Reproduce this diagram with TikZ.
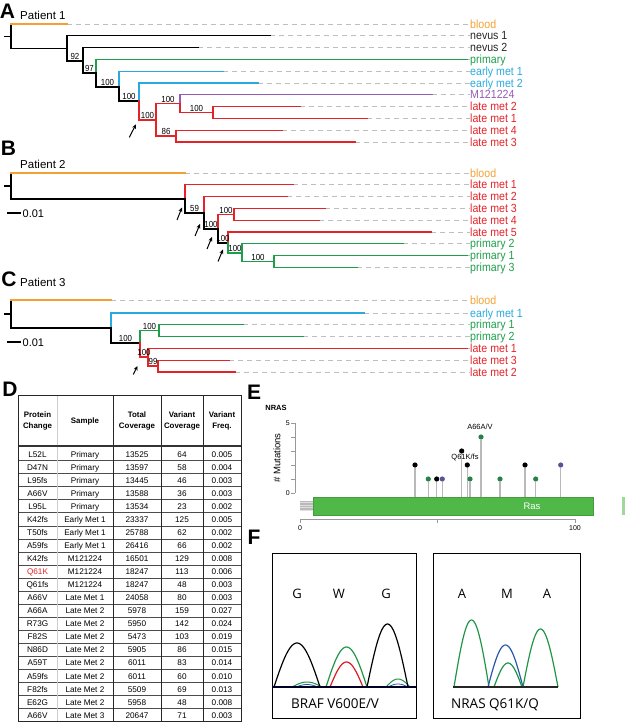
\documentclass[tikz,border=0pt]{standalone}
\usepackage{fontspec}
\setmainfont{Liberation Sans}
\newfontfamily\lsans{Liberation Sans}
\newfontfamily\lsansn{Liberation Sans}[FakeStretch=0.9]
\newfontfamily\osans{Open Sans}
\usetikzlibrary{calc,arrows.meta}
\newcommand\fsz[1]{\fontsize{#1}{#1}\selectfont}
\definecolor{torange}{RGB}{245,160,50}
\definecolor{tgreen}{RGB}{30,158,75}
\definecolor{tcyan}{RGB}{40,170,225}
\definecolor{tred}{RGB}{228,35,40}
\definecolor{tpurple}{RGB}{150,90,180}
\definecolor{dashgray}{RGB}{190,190,190}
\definecolor{rasgreen}{RGB}{80,184,72}
\definecolor{lolgreen}{RGB}{40,130,70}
\definecolor{lolpurple}{RGB}{85,85,150}
\definecolor{stemgray}{RGB}{185,185,185}
\definecolor{chgreen}{RGB}{30,150,70}
\definecolor{chblue}{RGB}{40,90,170}
\definecolor{chred}{RGB}{220,30,35}
\tikzset{
 tr/.style={line width=1.3pt, line cap=rect},
 dsh/.style={draw=dashgray, line width=0.9pt, dash pattern=on 5pt off 4pt},
 lab/.style={anchor=base west, inner sep=0pt, font=\lsansn\fsz{11.8}},
 bs/.style={anchor=south, inner sep=1pt, font=\lsansn\fsz{8.8}},
 plab/.style={anchor=base west, inner sep=0pt, font=\lsans\fsz{11.5}},
 panel/.style={inner sep=0pt, font=\lsans\bfseries\fsz{21}},
 arr/.style={-{Stealth[length=4.5pt,width=4pt]}, line width=1pt},
 sbar/.style={line width=1.2pt},
 tcell/.style={anchor=base, inner sep=0pt, font=\lsans\fsz{8.2}},
 thead/.style={align=center, inner sep=0pt, font=\lsans\bfseries\fontsize{7.9}{11.5}\selectfont},
 tline/.style={line width=0.8pt, black!85},
 rowline/.style={line width=0.7pt, black!70},
 axisg/.style={line width=0.7pt, gray!80},
 stem/.style={line width=1.2pt, stemgray},
 small/.style={inner sep=0pt, font=\lsans\fsz{7}},
 fbox/.style={draw, line width=1.2pt, inner sep=0pt, anchor=north west, minimum height=165pt},
 flet/.style={anchor=base, inner sep=0pt, font=\osans\fsz{13}},
 ftext/.style={anchor=base west, inner sep=0pt, font=\osans\fsz{13.5}}
}
\newcommand\leaf[5]{%
 \coordinate (#1) at (#2,#3);
 \node[lab,text=#4] (#1-l) at (470,#3+4.1) {#5};
 \draw[dsh] (#1) -- (#1 -| #1-l.west);
}
\newcommand\tedge[4]{\draw[tr,#3] (#1) -- (#1 |- #2); \draw[tr,#4] (#1 |- #2) -- (#2);}
\newcommand\bsl[3]{\node[bs] (bs-#2) at ($(#1 |- #2)!0.5!(#2)$) {#3};}
\newcommand\peak[5]{\draw[#1, line width=#5pt] plot[domain=#2:#3, samples=41, smooth] (\x,{687-#4*cos(180*(\x-#2)/(#3-#2)-90)});}
\begin{document}
\begin{tikzpicture}[x=1pt,y=-1pt]
\useasboundingbox (0,0) rectangle (625,722);
% ================= A =================
\node[panel] (pA) at (7.5,11) {A};
\node[plab] (patA) at (20,20) {Patient 1};
\leaf{a-blood}{67}{24}{torange}{blood}
\leaf{a-nev1}{270}{35.8}{black!85}{nevus 1}
\leaf{a-nev2}{198}{47.6}{black!85}{nevus 2}
\leaf{a-prim}{467}{59.4}{tgreen}{primary}
\leaf{a-em1}{223}{71.2}{tcyan}{early met 1}
\leaf{a-em2}{258}{83}{tcyan}{early met 2}
\leaf{a-m12}{432}{94.8}{tpurple}{M121224}
\leaf{a-lm2}{300}{106.6}{tred}{late met 2}
\leaf{a-lm1}{367}{118.4}{tred}{late met 1}
\leaf{a-lm4}{282}{130.2}{tred}{late met 4}
\leaf{a-lm3}{355}{142}{tred}{late met 3}
\coordinate (a-tk) at (5,36.5);
\coordinate (a-r) at (11,36.5);
\coordinate (a-n1) at (67,48.5);
\coordinate (a-n2) at (83,61);
\coordinate (a-n3) at (96,73);
\coordinate (a-n4) at (119,87);
\coordinate (a-n5) at (139,101);
\coordinate (a-n6) at (156,120);
\coordinate (a-n7) at (180,103.5);
\coordinate (a-n8) at (176,136);
\coordinate (a-n9) at (213,112.5);
\draw[tr] (a-tk) -- (a-r);
\tedge{a-r}{a-blood}{black}{torange}
\tedge{a-r}{a-n1}{black}{black}
\tedge{a-n1}{a-nev1}{black}{black}
\tedge{a-n1}{a-n2}{black}{black}
\tedge{a-n2}{a-nev2}{black}{black}
\tedge{a-n2}{a-n3}{black}{black}
\tedge{a-n3}{a-prim}{tgreen}{tgreen}
\tedge{a-n3}{a-n4}{black}{black}
\tedge{a-n4}{a-em1}{tcyan}{tcyan}
\tedge{a-n4}{a-n5}{black}{black}
\tedge{a-n5}{a-em2}{tcyan}{tcyan}
\tedge{a-n5}{a-n6}{tred}{tred}
\tedge{a-n6}{a-n7}{tred}{tred}
\tedge{a-n6}{a-n8}{tred}{tred}
\tedge{a-n7}{a-m12}{tpurple}{tpurple}
\tedge{a-n7}{a-n9}{tred}{tred}
\tedge{a-n9}{a-lm2}{tred}{tred}
\tedge{a-n9}{a-lm1}{tred}{tred}
\tedge{a-n8}{a-lm4}{tred}{tred}
\tedge{a-n8}{a-lm3}{tred}{tred}
\bsl{a-n1}{a-n2}{92}
\bsl{a-n2}{a-n3}{97}
\bsl{a-n3}{a-n4}{100}
\bsl{a-n4}{a-n5}{100}
\bsl{a-n5}{a-n6}{100}
\bsl{a-n6}{a-n7}{100}
\bsl{a-n7}{a-n9}{100}
\bsl{a-n6}{a-n8}{86}
\coordinate (a-ar1) at (129.3,137.3); \coordinate (a-ar2) at (136,124.3);
\draw[arr] (a-ar1) -- (a-ar2);
% ================= B =================
\node[panel] (pB) at (8.5,148) {B};
\node[plab] (patB) at (20,169) {Patient 2};
\leaf{b-blood}{185}{173}{torange}{blood}
\leaf{b-lm1}{293}{184.8}{tred}{late met 1}
\leaf{b-lm2}{287}{196.6}{tred}{late met 2}
\leaf{b-lm3}{325}{208.4}{tred}{late met 3}
\leaf{b-lm4}{319}{220.2}{tred}{late met 4}
\leaf{b-lm5}{431}{232}{tred}{late met 5}
\leaf{b-p2}{403}{243.8}{tgreen}{primary 2}
\leaf{b-p1}{467}{255.6}{tgreen}{primary 1}
\leaf{b-p3}{357}{267.4}{tgreen}{primary 3}
\coordinate (b-tk) at (5,186);
\coordinate (b-r) at (11,186);
\coordinate (b-m1) at (185,199);
\coordinate (b-m2) at (204,213);
\coordinate (b-m3) at (218,229);
\coordinate (b-m4) at (234,214.3);
\coordinate (b-m5) at (228,243);
\coordinate (b-m6) at (242,253);
\coordinate (b-m7) at (274,261.5);
\draw[tr] (b-tk) -- (b-r);
\tedge{b-r}{b-blood}{black}{torange}
\tedge{b-r}{b-m1}{black}{black}
\tedge{b-m1}{b-lm1}{tred}{tred}
\tedge{b-m1}{b-m2}{black}{black}
\tedge{b-m2}{b-lm2}{tred}{tred}
\tedge{b-m2}{b-m3}{black}{black}
\tedge{b-m3}{b-m4}{tred}{tred}
\tedge{b-m3}{b-m5}{black}{black}
\tedge{b-m4}{b-lm3}{tred}{tred}
\tedge{b-m4}{b-lm4}{tred}{tred}
\tedge{b-m5}{b-lm5}{tred}{tred}
\tedge{b-m5}{b-m6}{tgreen}{tgreen}
\tedge{b-m6}{b-p2}{tgreen}{tgreen}
\tedge{b-m6}{b-m7}{tgreen}{tgreen}
\tedge{b-m7}{b-p1}{tgreen}{tgreen}
\tedge{b-m7}{b-p3}{tgreen}{tgreen}
\bsl{b-m1}{b-m2}{59}
\bsl{b-m2}{b-m3}{100}
\bsl{b-m3}{b-m4}{100}
\bsl{b-m3}{b-m5}{100}
\bsl{b-m5}{b-m6}{100}
\bsl{b-m6}{b-m7}{100}
\coordinate (b-sb1) at (7,213); \coordinate (b-sb2) at (21,213);
\draw[sbar] (b-sb1) -- (b-sb2);
\node[plab, font=\lsans\fsz{11}] (b-sbl) at (22.5,217.5) {0.01};
\coordinate (b-a1s) at (177,220); \coordinate (b-a1e) at (182,207.5);
\coordinate (b-a2s) at (195,236); \coordinate (b-a2e) at (200,224);
\coordinate (b-a3s) at (207,249); \coordinate (b-a3e) at (212,237);
\coordinate (b-a4s) at (218,261.5); \coordinate (b-a4e) at (223,249.5);
\draw[arr] (b-a1s) -- (b-a1e);
\draw[arr] (b-a2s) -- (b-a2e);
\draw[arr] (b-a3s) -- (b-a3e);
\draw[arr] (b-a4s) -- (b-a4e);
% ================= C =================
\node[panel] (pC) at (9,279) {C};
\node[plab] (patC) at (20,286) {Patient 3};
\leaf{c-blood}{111}{300}{torange}{blood}
\leaf{c-em1}{364}{313}{tcyan}{early met 1}
\leaf{c-p1}{243}{324.8}{tgreen}{primary 1}
\leaf{c-p2}{303}{336.6}{tgreen}{primary 2}
\leaf{c-lm1}{467}{348.4}{tred}{late met 1}
\leaf{c-lm3}{229}{360.2}{tred}{late met 3}
\leaf{c-lm2}{235}{372}{tred}{late met 2}
\coordinate (c-tk) at (5,314);
\coordinate (c-r) at (11,314);
\coordinate (c-1) at (111,328);
\coordinate (c-2) at (140,343);
\coordinate (c-3) at (159,330.7);
\coordinate (c-4) at (148,357);
\coordinate (c-5) at (158,366.1);
\draw[tr] (c-tk) -- (c-r);
\tedge{c-r}{c-blood}{black}{torange}
\tedge{c-r}{c-1}{black}{black}
\tedge{c-1}{c-em1}{tcyan}{tcyan}
\tedge{c-1}{c-2}{black}{black}
\tedge{c-2}{c-3}{tgreen}{tgreen}
\tedge{c-2}{c-4}{tred}{tred}
\tedge{c-3}{c-p1}{tgreen}{tgreen}
\tedge{c-3}{c-p2}{tgreen}{tgreen}
\tedge{c-4}{c-lm1}{tred}{tred}
\tedge{c-4}{c-5}{tred}{tred}
\tedge{c-5}{c-lm3}{tred}{tred}
\tedge{c-5}{c-lm2}{tred}{tred}
\bsl{c-1}{c-2}{100}
\bsl{c-2}{c-3}{100}
\bsl{c-2}{c-4}{100}
\bsl{c-4}{c-5}{99}
\coordinate (c-sb1) at (7,342); \coordinate (c-sb2) at (21,342);
\draw[sbar] (c-sb1) -- (c-sb2);
\node[plab, font=\lsans\fsz{11}] (c-sbl) at (22.5,346.5) {0.01};
\coordinate (c-as) at (133.3,374.5); \coordinate (c-ae) at (137.5,366);
\draw[arr] (c-as) -- (c-ae);
% ================= D (table) =================
\node[panel] (pD) at (10,389) {D};
\node[thead] (h1) at (37.5,421) {Protein\\Change};
\node[thead] (h2) at (85,421) {Sample};
\node[thead] (h3) at (137,421) {Total\\Coverage};
\node[thead] (h4) at (182,421) {Variant\\Coverage};
\node[thead] (h5) at (222,421) {Variant\\Freq.};
\foreach \k in {1,...,20} \draw[rowline] (18,{447.5+13.06*\k}) -- (241,{447.5+13.06*\k});
\draw[gray!40, line width=0.7pt] (57,395) -- (57,721.7);
\foreach \xx in {113,161,203} \draw[tline] (\xx,395) -- (\xx,721.7);
\draw[line width=1.7pt, black!80] (18,446.3) -- (241,446.3);
\draw[tline] (18,395) rectangle (241,721.7);
\foreach \pc/\sm/\tc/\vc/\vf [count=\i from 0] in {L52L/Primary/13525/64/0.005, D47N/Primary/13597/58/0.004, L95fs/Primary/13445/46/0.003, A66V/Primary/13588/36/0.003, L95L/Primary/13534/23/0.002, K42fs/Early Met 1/23337/125/0.005, T50fs/Early Met 1/25788/62/0.002, A59fs/Early Met 1/26416/66/0.002, K42fs/M121224/16501/129/0.008, {\textcolor{tred}{Q61K}}/M121224/18247/113/0.006, Q61fs/M121224/18247/48/0.003, A66V/Late Met 1/24058/80/0.003, A66A/Late Met 2/5978/159/0.027, R73G/Late Met 2/5950/142/0.024, F82S/Late Met 2/5473/103/0.019, N86D/Late Met 2/5905/86/0.015, A59T/Late Met 2/6011/83/0.014, A59fs/Late Met 2/6011/60/0.010, F82fs/Late Met 2/5509/69/0.013, E62G/Late Met 2/5958/48/0.008, A66V/Late Met 3/20647/71/0.003}
{
 \node[tcell] (t\i-a) at (37.5,{457+13.06*\i}) {\pc};
 \node[tcell] (t\i-b) at (85,{457+13.06*\i}) {\sm};
 \node[tcell] (t\i-c) at (137,{457+13.06*\i}) {\tc};
 \node[tcell] (t\i-d) at (182,{457+13.06*\i}) {\vc};
 \node[tcell] (t\i-e) at (222,{457+13.06*\i}) {\vf};
}
% ================= E =================
\node[panel] (pE) at (254,392) {E};
\node[inner sep=0pt, font=\lsans\bfseries\fsz{7.5}] (e-nras) at (276,408) {NRAS};
\coordinate (e-ytop) at (295,423); \coordinate (e-ybot) at (295,493);
\draw[axisg] (e-ytop) -- (e-ybot);
\foreach \k in {0,...,5} \draw[axisg] (291,{493-14*\k}) -- (295,{493-14*\k});
\node[small, anchor=east] (e-y5) at (290,423) {5};
\node[small, anchor=east] (e-y0) at (290,493) {0};
\node[inner sep=0pt, font=\lsans\fsz{9.5}, rotate=90] (e-ylab) at (277,458) {\# Mutations};
\coordinate (e-x0) at (300,519); \coordinate (e-x1) at (575,519);
\draw[axisg] (e-x0) -- (e-x1);
\foreach \xx in {300,437.5,575} \draw[axisg] (\xx,519) -- (\xx,523);
\node[small, anchor=north] (e-xl0) at (300,525) {0};
\node[small, anchor=north] (e-xl1) at (575,525) {100};
\fill[gray!55] (300,501) rectangle (313,511);
\foreach \yy in {502.5,505,507.5,510} \draw[gray!25, line width=0.3pt] (300,\yy) -- (313,\yy);
\node[fill=rasgreen, draw=rasgreen!85!black, line width=0.4pt, inner sep=0pt, minimum width=280pt, minimum height=18pt, anchor=north west] (e-ras) at (313,497) {};
\node[text=white, inner sep=0pt, font=\lsans\fsz{9.5}] (e-rast) at (532,506.5) {Ras};
\fill[rasgreen!55] (621.5,497) rectangle (625,515);
\foreach \xx/\n/\c [count=\j] in {415/2/black, 428.3/1/lolgreen, 436.7/1/black, 442.3/1/lolpurple, 461.7/3/black, 467.3/2/black, 470/1/lolgreen, 481/4/lolgreen, 500/1/lolgreen, 525/2/black, 535.7/1/lolgreen, 560.7/2/lolpurple}
{
 \node[circle, fill=\c, inner sep=0pt, minimum size=5.2pt] (ld\j) at (\xx,{493-14*\n}) {};
 \coordinate (ls\j) at (\xx,497);
 \draw[stem] (ld\j.south) -- (ls\j);
}
\node[inner sep=0pt, font=\lsans\fsz{7.5}] (e-l1) at (480,427) {A66A/V};
\node[inner sep=0pt, font=\lsans\fsz{7.5}] (e-l2) at (465,457) {Q61K/fs};
% ================= F =================
\node[panel] (pF) at (254,537) {F};
\node[fbox, minimum width=144pt] (f-box1) at (272,553) {};
\node[fbox, minimum width=147pt] (f-box2) at (433,553) {};
\node[flet] (f-g1) at (297,598) {G};
\node[flet] (f-w) at (339,598) {W};
\node[flet] (f-g2) at (386,598) {G};
\node[flet] (f-a1) at (462,598) {A};
\node[flet] (f-m) at (507,598) {M};
\node[flet] (f-a2) at (547,598) {A};
\peak{chgreen}{292}{322}{5}{1}
\peak{chblue}{296}{318}{2.5}{0.8}
\peak{chgreen}{386}{410}{8}{1}
\peak{chblue}{388}{408}{3}{0.8}
\peak{chgreen}{326}{367}{40}{1.2}
\peak{chred}{330}{363}{25}{1.2}
\peak{black}{274}{320}{44}{1.2}
\peak{black}{367}{408}{63}{1.2}
\coordinate (f-b1l) at (272,687); \coordinate (f-b1r) at (416,687);
\draw[line width=1.5pt, black!85!blue] (f-b1l) -- (f-b1r);
\peak{chgreen}{454}{489}{67}{1.2}
\peak{chblue}{488}{523}{42}{1.2}
\peak{chgreen}{494}{522}{24}{1.2}
\peak{chgreen}{523}{558}{58}{1.2}
\coordinate (f-b2l) at (453,687); \coordinate (f-b2r) at (558,687);
\draw[line width=1.5pt, black!85] (f-b2l) -- (f-b2r);
\node[ftext] (f-t1) at (291,708) {BRAF V600E/V};
\node[ftext] (f-t2) at (451,708) {NRAS Q61K/Q};
\end{tikzpicture}
\end{document}
